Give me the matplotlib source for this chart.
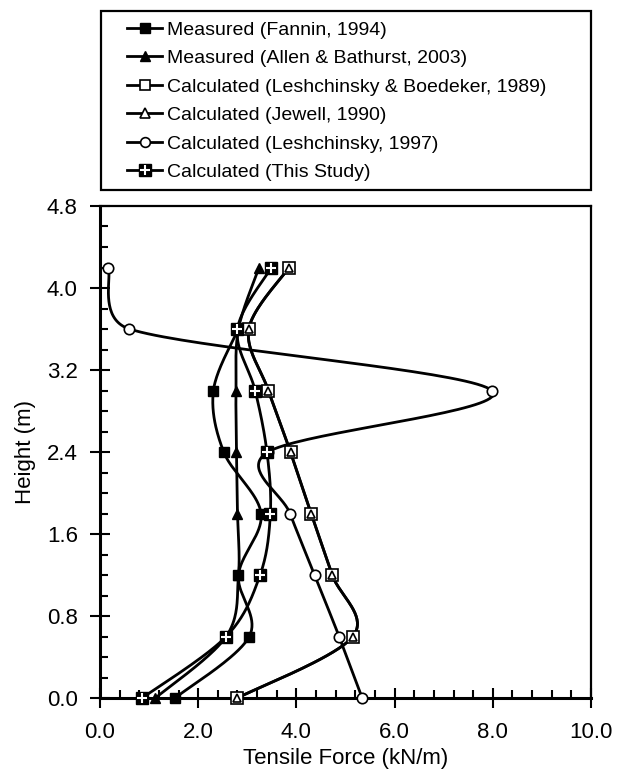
import numpy as np
import matplotlib
matplotlib.use("Agg")
import matplotlib.pyplot as plt
from matplotlib.lines import Line2D
from matplotlib.patches import Rectangle
from matplotlib.legend_handler import HandlerTuple
from matplotlib.ticker import MultipleLocator, FormatStrFormatter

plt.rcParams['font.family'] = ['Liberation Sans', 'DejaVu Sans']

# alturas (m) e forcas de tracao (kN/m)
alturas = [0.0, 0.6, 1.2, 1.8, 2.4, 3.0, 3.6, 4.2]
fannin = [1.53, 3.04, 2.82, 3.28, 2.52, 2.31, 2.82]
allen = [1.13, 2.57, 2.82, 2.80, 2.78, 2.77, 2.82, 3.24]
lesh_boed = [2.80, 5.15, 4.73, 4.30, 3.88, 3.43, 3.03, 3.85]
jewell = [2.80, 5.15, 4.73, 4.30, 3.88, 3.43, 3.03, 3.85]
lesh97 = [5.34, 4.87, 4.37, 3.87, 3.42, 7.98, 0.60, 0.17]
este_estudo = [0.86, 2.57, 3.26, 3.47, 3.40, 3.16, 2.80, 3.49]

rotulos = ["Measured (Fannin, 1994)",
           "Measured (Allen & Bathurst, 2003)",
           "Calculated (Leshchinsky & Boedeker, 1989)",
           "Calculated (Jewell, 1990)",
           "Calculated (Leshchinsky, 1997)",
           "Calculated (This Study)"]

fig = plt.figure(figsize=(6.22, 7.73), dpi=100)
ax = fig.add_axes([100/622, 1-698/773, 491/622, 492/773])
ax.set_xlim(0, 10)
ax.set_ylim(0, 4.8)


# curva suavizada (tipo excel) feita em coordenadas de tela
# catmull-rom, com o tamanho da tangente limitado pelo segmento
def suaviza(x, y, n=40, k=0.5):
    pts = ax.transData.transform(np.column_stack([x, y]))
    p = np.vstack([pts[0], pts, pts[-1]])
    out = []
    for i in range(1, len(p) - 2):
        p0, p1, p2, p3 = p[i-1], p[i], p[i+1], p[i+2]
        L = np.hypot(*(p2 - p1))
        t1 = (p2 - p0) / 6.0
        t2 = (p3 - p1) / 6.0
        if np.hypot(*t1) > k * L:
            t1 = t1 / np.hypot(*t1) * k * L
        if np.hypot(*t2) > k * L:
            t2 = t2 / np.hypot(*t2) * k * L
        c1 = p1 + t1
        c2 = p2 - t2
        t = np.linspace(0, 1, n)[:, None]
        seg = (1-t)**3*p1 + 3*(1-t)**2*t*c1 + 3*(1-t)*t**2*c2 + t**3*p2
        out.append(seg)
    out = np.vstack(out)
    d = ax.transData.inverted().transform(out)
    return d[:, 0], d[:, 1]


lw = 2.0
series = [
    (fannin, dict(marker='s', ms=7.5, mfc='black', mec='black')),
    (allen, dict(marker='^', ms=7, mfc='black', mec='black')),
    (lesh_boed, dict(marker='s', ms=8.5, mfc='white', mec='black', mew=1.2)),
    (jewell, dict(marker='^', ms=6, mfc='white', mec='black', mew=1.2)),
    (lesh97, dict(marker='o', ms=7.5, mfc='white', mec='black', mew=1.2)),
]

for vals, st in series:
    h = alturas[:len(vals)]
    xs, ys = suaviza(vals, h)
    ax.plot(xs, ys, color='black', lw=lw, zorder=2, clip_on=False)

for vals, st in series:
    h = alturas[:len(vals)]
    ax.plot(vals, h, linestyle='none', zorder=3, clip_on=False, **st)

xs, ys = suaviza(este_estudo, alturas)
ax.plot(xs, ys, color='black', lw=lw, zorder=2, clip_on=False)
ax.plot(este_estudo, alturas, linestyle='none', marker='s', ms=9, mfc='black', mec='black', zorder=4, clip_on=False)
ax.plot(este_estudo, alturas, linestyle='none', marker='+', ms=7, mec='white', mew=1.5, zorder=5, clip_on=False)

# eixos
ax.xaxis.set_major_locator(MultipleLocator(2.0))
ax.xaxis.set_minor_locator(MultipleLocator(0.4))
ax.yaxis.set_major_locator(MultipleLocator(0.8))
ax.yaxis.set_minor_locator(MultipleLocator(0.2))
ax.xaxis.set_major_formatter(FormatStrFormatter('%.1f'))
ax.yaxis.set_major_formatter(FormatStrFormatter('%.1f'))
ax.tick_params(which='major', direction='inout', length=14, width=1.5, labelsize=16, color='black')
ax.tick_params(axis='y', which='major', pad=9)
ax.tick_params(axis='x', which='major', pad=10)
ax.tick_params(which='minor', direction='in', length=6, width=1.5)
for s in ['left', 'bottom']:
    ax.spines[s].set_linewidth(2.2)
for s in ['top', 'right']:
    ax.spines[s].set_linewidth(1.6)

ax.set_xlabel("Tensile Force (kN/m)", fontsize=16, labelpad=4)
ax.set_ylabel("Height (m)", fontsize=16, labelpad=8)

# legenda
def h(**kw):
    return Line2D([], [], color='black', lw=lw, **kw)

handles = [
    h(marker='s', ms=7.5, mfc='black', mec='black'),
    h(marker='^', ms=7, mfc='black', mec='black'),
    h(marker='s', ms=7.5, mfc='white', mec='black', mew=1.2),
    h(marker='^', ms=6.5, mfc='white', mec='black', mew=1.2),
    h(marker='o', ms=7, mfc='white', mec='black', mew=1.2),
    (h(marker='s', ms=9, mfc='black', mec='black'),
     Line2D([], [], linestyle='none', marker='+', ms=7, mec='white', mew=1.5)),
]
fig.legend(handles, rotulos, loc='upper left', bbox_to_anchor=(127/622, 1-21/773),
           frameon=False, fontsize=14, borderpad=0, borderaxespad=0,
           handlelength=1.8, handletextpad=0.25, labelspacing=0.56,
           handler_map={tuple: HandlerTuple(ndivide=1)})
fig.patches.append(Rectangle((101/622, 1-190/773), 490/622, 179/773,
                             transform=fig.transFigure, fill=False,
                             edgecolor='black', lw=1.6))

plt.savefig("out.png", dpi=100)
